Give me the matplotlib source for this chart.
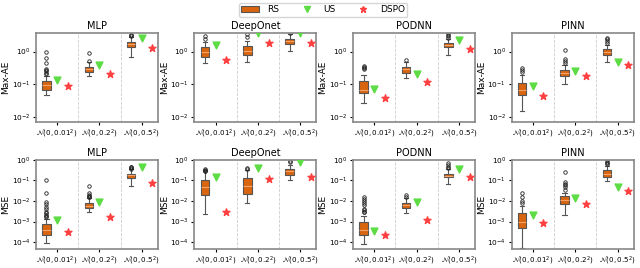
import numpy as np
import matplotlib.pyplot as plt
from matplotlib.patches import Patch
from matplotlib.lines import Line2D

models = ["MLP", "DeepOnet", "PODNN", "PINN"]
noise_labels = [r"$\mathcal{N}(0, 0.01^2)$", r"$\mathcal{N}(0, 0.2^2)$", r"$\mathcal{N}(0, 0.5^2)$"]

# RS box stats per model and noise level: (whislo, q1, med, q3, whishi, fliers)
rs_maxae = {
    "MLP": [
        (0.047, 0.067, 0.093, 0.123, 0.177, [1.0, 0.62, 0.46, 0.30, 0.27, 0.25, 0.22, 0.20]),
        (0.18, 0.23, 0.29, 0.34, 0.49, [0.9, 0.51]),
        (0.68, 1.38, 1.7, 2.0, 2.85, [3.0, 3.15, 3.3]),
    ],
    "DeepOnet": [
        (0.45, 0.68, 0.96, 1.38, 2.0, [2.5, 2.95]),
        (0.49, 0.77, 1.04, 1.48, 2.1, [2.8, 3.5]),
        (1.04, 1.72, 2.05, 2.5, 3.45, [3.8]),
    ],
    "PODNN": [
        (0.027, 0.052, 0.067, 0.123, 0.19, [0.29, 0.31, 0.33, 0.36]),
        (0.16, 0.22, 0.29, 0.34, 0.47, [0.55]),
        (0.8, 1.38, 1.6, 1.86, 2.45, [2.7, 3.0, 3.3, 3.6]),
    ],
    "PINN": [
        (0.0155, 0.047, 0.067, 0.11, 0.19, [0.23, 0.27, 0.31]),
        (0.1, 0.18, 0.22, 0.28, 0.40, [0.46, 0.52, 0.61, 1.1]),
        (0.47, 0.76, 0.98, 1.24, 1.6, [1.9, 2.1, 2.4, 2.7]),
    ],
}
rs_mse = {
    "MLP": [
        (9.3e-5, 2.3e-4, 3.7e-4, 7.2e-4, 1.4e-3,
         [0.1, 0.024, 0.009, 0.007, 0.005, 0.004, 0.003, 0.0025, 0.002, 0.0018, 0.0016]),
        (2.8e-3, 4.4e-3, 5.7e-3, 7.7e-3, 0.014, [0.052, 0.023, 0.02, 0.018, 0.016, 0.015]),
        (0.052, 0.126, 0.175, 0.2, 0.35, [0.37, 0.4, 0.44, 0.47]),
    ],
    "DeepOnet": [
        (2.3e-3, 0.019, 0.047, 0.107, 0.32, [0.27, 0.3, 0.33, 0.37]),
        (8e-3, 0.021, 0.052, 0.13, 0.32, [0.36, 0.4]),
        (0.1, 0.18, 0.3, 0.37, 0.55, [0.78, 0.85]),
    ],
    "PODNN": [
        (8.5e-5, 2.2e-4, 3.7e-4, 9.3e-4, 1.9e-3,
         [0.015, 0.012, 0.01, 0.008, 0.006, 0.004, 0.0035, 0.003, 0.0028]),
        (2.7e-3, 4.4e-3, 6e-3, 8e-3, 0.014, [0.016, 0.019]),
        (0.067, 0.14, 0.17, 0.2, 0.37, [0.41, 0.45, 0.55, 0.7]),
    ],
    "PINN": [
        (5.4e-5, 4.7e-4, 1e-3, 2.7e-3, 5.5e-3, [0.008, 0.0095, 0.016, 0.023]),
        (2.1e-3, 7.5e-3, 0.011, 0.017, 0.024, [0.035, 0.045, 0.06, 0.07, 0.085, 0.26]),
        (0.093, 0.15, 0.21, 0.33, 0.49, [0.6, 0.7, 0.8, 0.95]),
    ],
}

us_maxae = {"MLP": [0.136, 0.40, 2.7], "DeepOnet": [1.54, 3.7, 3.75],
            "PODNN": [0.07, 0.21, 2.2], "PINN": [0.089, 0.26, 0.47]}
dspo_maxae = {"MLP": [0.085, 0.21, 1.29], "DeepOnet": [0.54, 1.9, 1.8],
              "PODNN": [0.038, 0.12, 1.24], "PINN": [0.044, 0.18, 0.40]}
us_mse = {"MLP": [1.2e-3, 9e-3, 0.44], "DeepOnet": [0.15, 0.41, 0.77],
          "PODNN": [3.4e-4, 9e-3, 0.35], "PINN": [2.1e-3, 0.014, 0.047]}
dspo_mse = {"MLP": [3.2e-4, 1.6e-3, 0.077], "DeepOnet": [3.0e-3, 0.11, 0.15],
            "PODNN": [2.3e-4, 1.2e-3, 0.14], "PINN": [8.5e-4, 6.8e-3, 0.031]}

BOX_C = "#d9650f"
US_C = "#5ddc45"
DSPO_C = "#ff4040"


def stats(rows):
    out = []
    for lo, q1, med, q3, hi, fl in rows:
        out.append(dict(whislo=lo, q1=q1, med=med, q3=q3, whishi=hi, fliers=fl))
    return out


def panel(ax, rows, us, dspo, ylabel, title, ylim):
    x = np.arange(3)
    ax.bxp(stats(rows), positions=x - 0.25, widths=0.2, patch_artist=True,
           showfliers=True,
           boxprops=dict(facecolor=BOX_C, edgecolor="#555555", linewidth=0.8),
           medianprops=dict(color="#f4a46a", linewidth=0.8),
           whiskerprops=dict(color="#555555", linewidth=0.8),
           capprops=dict(color="#555555", linewidth=0.8),
           flierprops=dict(marker="o", markersize=2.5, markerfacecolor="none",
                           markeredgecolor="#222222", markeredgewidth=0.6))
    ax.scatter(x, us, marker="v", s=24, color=US_C, zorder=3)
    ax.scatter(x + 0.25, dspo, marker="*", s=28, color=DSPO_C, zorder=3)
    for xv in (0.5, 1.5):
        ax.axvline(xv, color="#cccccc", linestyle="--", linewidth=0.6)
    ax.set_yscale("log")
    ax.set_ylim(*ylim)
    ax.set_xlim(-0.5, 2.38)
    ax.set_xticks(x)
    ax.set_xticklabels(noise_labels, fontsize=5.1)
    ax.tick_params(axis="y", labelsize=5.3, length=2.5, pad=1.5)
    ax.tick_params(axis="x", length=2.5, pad=1.5)
    ax.tick_params(axis="y", which="minor", length=0)
    ax.set_ylabel(ylabel, fontsize=6.5, labelpad=1)
    ax.set_title(title, fontsize=7, pad=3)
    for s in ax.spines.values():
        s.set_color("#888888")
        s.set_linewidth(1.2)


fig, axes = plt.subplots(2, 4, figsize=(6.4, 2.68), dpi=100)
fig.subplots_adjust(left=0.056, right=0.99, top=0.878, bottom=0.07,
                    wspace=0.3, hspace=0.42)

for j, m in enumerate(models):
    panel(axes[0, j], rs_maxae[m], us_maxae[m], dspo_maxae[m], "Max-AE", m, (0.0068, 3.8))
    panel(axes[1, j], rs_mse[m], us_mse[m], dspo_mse[m], "MSE", m, (4.5e-5, 1.0))

handles = [Patch(facecolor=BOX_C, edgecolor="#555555", linewidth=0.8),
           Line2D([], [], marker="v", linestyle="none", color=US_C, markersize=4),
           Line2D([], [], marker="*", linestyle="none", color=DSPO_C, markersize=5)]
fig.legend(handles, ["RS", "US", "DSPO"], loc="upper center", bbox_to_anchor=(0.505, 1.005),
           ncol=3, fontsize=6.5, columnspacing=2.0, handlelength=2.0,
           borderpad=0.25, handletextpad=0.9, frameon=True)

fig.savefig("out.png", dpi=100)
